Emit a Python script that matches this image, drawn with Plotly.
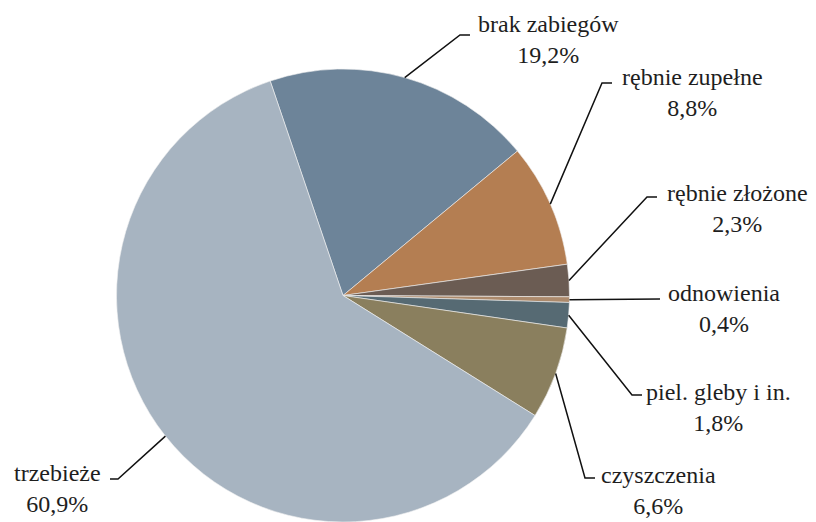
import math
import plotly.graph_objects as go

# Udział zabiegów (%) w kolejności ruchu wskazówek zegara
categories = ["brak zabiegów", "rębnie zupełne", "rębnie złożone", "odnowienia",
              "piel. gleby i in.", "czyszczenia", "trzebieże"]
shares = [19.2, 8.8, 2.3, 0.4, 1.8, 6.6, 60.9]
colors = ["#6D8499", "#B47E52", "#6B5C53", "#AC8A6C", "#566A73", "#8A7F5E", "#A7B4C1"]

W, H = 816, 522
CX, TOP = 343, 69          # pie centre x and top edge (px)
R_BOX = 228                # half width of the pie domain (px)
ROTATION = -18.75          # start angle of the first slice

# label layout in pixels: text block centre, elbow point, end of the short horizontal tick
label_pos = [(548, 40), (692, 93), (737, 208), (724, 308), (718, 407), (658, 490), (57, 488)]
elbows = [(460, 35), (602, 83), (647, 197), None, (632, 395), (585, 478), (118, 479)]
tick_ends = [(470, 35), (612, 83), (657, 197), (660, 299), (642, 395), (595, 478), (110, 479)]


def px(x):
    return x / W


def py(y):
    return 1 - y / H


dom_x = [px(CX - R_BOX), px(CX + R_BOX)]
dom_y = [0, py(TOP)]
radius = min(2 * R_BOX, H - TOP) / 2
CY = TOP + radius

fig = go.Figure(go.Pie(
    labels=categories,
    values=shares,
    sort=False,
    direction="clockwise",
    rotation=ROTATION,
    marker=dict(colors=colors, line=dict(color="#F2F2F2", width=0.6)),
    textinfo="none",
    hoverinfo="label+percent",
    showlegend=False,
    domain=dict(x=dom_x, y=dom_y),
))

total = sum(shares)
angle = ROTATION
shapes = []
annotations = []
for name, v, pos, elb, tick in zip(categories, shares, label_pos, elbows, tick_ends):
    sweep = 360 * v / total
    mid = math.radians(angle + sweep / 2)
    angle += sweep
    rx = CX + radius * math.sin(mid)
    ry = CY - radius * math.cos(mid)
    pts = [(rx, ry)] + ([elb] if elb else []) + [tick]
    path = "M " + " L ".join(f"{px(a):.5f},{py(b):.5f}" for a, b in pts)
    shapes.append(dict(type="path", xref="paper", yref="paper", path=path,
                       line=dict(color="#111111", width=1.5)))
    pct = f"{v:.1f}".replace(".", ",") + "%"
    annotations.append(dict(
        x=px(pos[0]), y=py(pos[1]), xref="paper", yref="paper",
        xanchor="center", yanchor="middle", showarrow=False, align="center",
        text=f"{name}<br>{pct}",
        font=dict(family="Liberation Serif", size=24, color="#1E1E1E"),
    ))

fig.update_layout(
    width=W, height=H,
    margin=dict(l=0, r=0, t=0, b=0),
    paper_bgcolor="white",
    plot_bgcolor="white",
    font=dict(family="Liberation Serif"),
    shapes=shapes,
    annotations=annotations,
)

fig.write_html("out.html")
